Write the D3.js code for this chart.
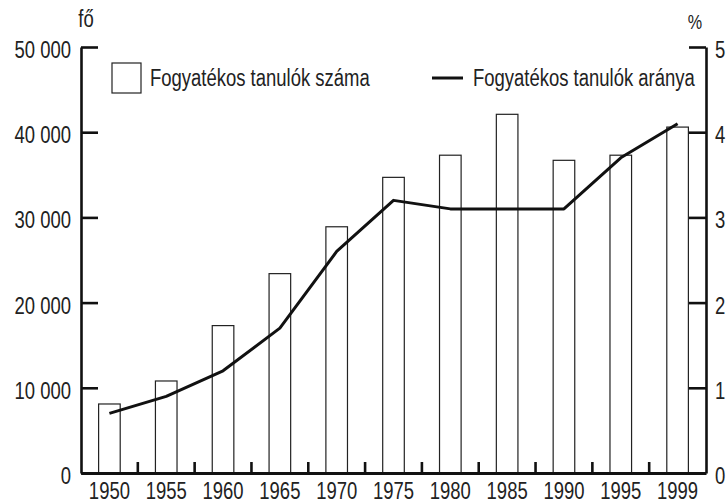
<!DOCTYPE html>
<html>
<head>
<meta charset="utf-8">
<script src="https://cdn.jsdelivr.net/npm/d3@7"></script>
<style>
  html, body { margin: 0; padding: 0; background: #fff; }
  svg { display: block; }
  text { font-family: "Liberation Sans", Arial, sans-serif; fill: #222; }
</style>
</head>
<body>
<svg id="chart" width="726" height="504"></svg>
<script>
const years = ["1950","1955","1960","1965","1970","1975","1980","1985","1990","1995","1999"];
const students = [8100, 10800, 17300, 23400, 28900, 34700, 37300, 42100, 36700, 37300, 40600];
const ratio = [0.7, 0.9, 1.2, 1.7, 2.6, 3.2, 3.1, 3.1, 3.1, 3.7, 4.1];
const leftTicks = [0, 10000, 20000, 30000, 40000, 50000];
const rightTicks = [0, 1, 2, 3, 4, 5];
const leftUnit = "fő";
const rightUnit = "%";
const legendBar = "Fogyatékos tanulók száma";
const legendLine = "Fogyatékos tanulók aránya";

const svg = d3.select("#chart");
const FS = 24;
const K = 0.77; // horizontal condensing of the typeface
const mLeft = 81, mRight = 706, mTop = 47, mBottom = 473;

const x = d3.scaleBand().domain(years).range([mLeft, mRight]).paddingInner(0.62).paddingOuter(0.31);
const y = d3.scaleLinear().domain([0, 50000]).range([mBottom, mTop]);
const y2 = d3.scaleLinear().domain([0, 5]).range([mBottom, mTop]);

const fmt = d => d === 0 ? "0" : d3.format(",")(d).replace(/,/g, " ");

function condText(px, py, str, anchor, size) {
  const g = svg.append("g").attr("transform", `translate(${px},${py}) scale(${K},1)`);
  g.append("text").attr("text-anchor", anchor || "start").attr("font-size", size || FS).text(str);
  return g;
}

// bars
svg.append("g").selectAll("rect").data(years).join("rect")
  .attr("x", d => x(d))
  .attr("y", (d, i) => y(students[i]))
  .attr("width", x.bandwidth())
  .attr("height", (d, i) => mBottom - y(students[i]))
  .attr("fill", "#fff")
  .attr("stroke", "#222")
  .attr("stroke-width", 1.2);

// line
const line = d3.line()
  .x((d, i) => x(years[i]) + x.bandwidth() / 2)
  .y(d => y2(d));
svg.append("path").datum(ratio)
  .attr("d", line)
  .attr("fill", "none")
  .attr("stroke", "#111")
  .attr("stroke-width", 3)
  .attr("stroke-linejoin", "round");

// left axis
const gl = svg.append("g").attr("transform", `translate(${mLeft},0)`)
  .call(d3.axisLeft(y).tickValues(leftTicks).tickFormat(fmt).tickSize(-17).tickSizeOuter(0).tickPadding(10));
// right axis
const gr = svg.append("g").attr("transform", `translate(${mRight},0)`)
  .call(d3.axisRight(y2).tickValues(rightTicks).tickFormat(d3.format("d")).tickSize(-17).tickSizeOuter(0).tickPadding(9));
// bottom axis
const gb = svg.append("g").attr("transform", `translate(0,${mBottom})`)
  .call(d3.axisBottom(x).tickSize(0).tickSizeOuter(0).tickPadding(9));

[gl, gr, gb].forEach(g => {
  g.attr("font-family", null).attr("font-size", null);
  g.selectAll(".domain").attr("stroke", "#111").attr("stroke-width", 2.6);
  g.selectAll(".tick line").attr("stroke", "#111").attr("stroke-width", 2.6);
  g.selectAll(".tick text")
    .attr("font-size", FS).attr("fill", "#222")
    .attr("x", function () { return (+d3.select(this).attr("x") || 0) / K; })
    .attr("transform", `scale(${K},1)`);
});
gl.selectAll(".tick text").attr("dy", "0.44em");
gr.selectAll(".tick text").attr("dy", "0.44em");
gb.select(".domain").attr("stroke-width", 3);

// boundary ticks on bottom axis
const step = x.step();
svg.append("g").selectAll("line").data(years.slice(0, -1)).join("line")
  .attr("x1", d => x(d) + x.bandwidth() / 2 + step / 2)
  .attr("x2", d => x(d) + x.bandwidth() / 2 + step / 2)
  .attr("y1", mBottom)
  .attr("y2", mBottom - 11)
  .attr("stroke", "#111")
  .attr("stroke-width", 2.6);

// units
condText(86, 27, leftUnit, "middle");
condText(695, 29, rightUnit, "middle", FS - 3);

// legend
svg.append("rect").attr("x", 112).attr("y", 63).attr("width", 29).attr("height", 30)
  .attr("fill", "#fff").attr("stroke", "#222").attr("stroke-width", 1.2);
condText(150, 86, legendBar);
svg.append("line").attr("x1", 432).attr("x2", 463).attr("y1", 78).attr("y2", 78)
  .attr("stroke", "#111").attr("stroke-width", 3);
condText(473, 86, legendLine);
</script>
</body>
</html>
